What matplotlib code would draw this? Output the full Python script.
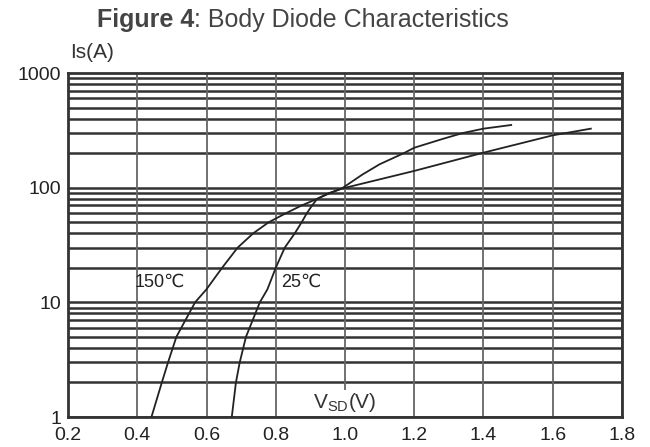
import matplotlib.pyplot as plt

# valores (Vsd em V, Is em A)
v_150 = [0.441, 0.471, 0.489, 0.513, 0.567, 0.60, 0.645, 0.69, 0.735, 0.78,
         0.83, 0.875, 0.92, 0.955, 0.99, 1.2, 1.4, 1.6, 1.71]
i_150 = [1, 2, 3, 5, 10, 13, 20, 30, 40, 50,
         60, 70, 80, 90, 98, 140, 202, 286, 327]

v_25 = [0.673, 0.685, 0.696, 0.714, 0.754, 0.776, 0.80, 0.826, 0.855, 0.875,
        0.89, 0.905, 0.92, 0.95, 0.99, 1.05, 1.1, 1.17, 1.2, 1.28,
        1.341, 1.4, 1.48]
i_25 = [1, 2, 3, 5, 10, 13, 20, 30, 40, 50,
        60, 70, 80, 88, 98, 130, 160, 200, 223, 265,
        300, 327, 352]

x_ticks = [0.2, 0.4, 0.6, 0.8, 1.0, 1.2, 1.4, 1.6, 1.8]
x_labels = ['0.2', '0.4', '0.6', '0.8', '1.0', '1.2', '1.4', '1.6', '1.8']
y_ticks = [1, 10, 100, 1000]
y_labels = ['1', '10', '100', '1000']

plt.rcParams['font.family'] = ['Liberation Sans', 'DejaVu Sans']

fig = plt.figure(figsize=(6.5, 4.47), dpi=100)
ax = fig.add_axes([68 / 650, 1 - 417 / 447, 554 / 650, 344 / 447])

# grade: linhas horizontais em cada 1..9 da decada, verticais a cada 0.2
for d in y_ticks[:-1]:
    for m in range(1, 10):
        ax.axhline(m * d, color='#333333', lw=1.8, zorder=1)
for xv in x_ticks:
    ax.axvline(xv, color='#666666', lw=1.3, zorder=1)

ax.plot(v_150, i_150, color='#222222', lw=1.3, zorder=3)
ax.plot(v_25, i_25, color='#222222', lw=1.3, zorder=3)

ax.set_yscale('log')
ax.set_xlim(0.2, 1.8)
ax.set_ylim(1, 1000)
ax.set_xticks(x_ticks)
ax.set_xticklabels(x_labels)
ax.set_yticks(y_ticks)
ax.set_yticklabels(y_labels)
ax.minorticks_off()
ax.tick_params(length=0, labelsize=14, colors='#222222')
ax.tick_params(axis='x', pad=7)
ax.tick_params(axis='y', pad=5)
for s in ax.spines.values():
    s.set_linewidth(2)
    s.set_color('#333333')

ax.text(0.393, 15, '150\u2103', fontsize=13, color='#222222', va='center', zorder=4)
ax.text(0.815, 15, '25\u2103', fontsize=13, color='#222222', va='center', zorder=4)

# rotulo do eixo x dentro do grafico
ax.text(1.0, 1.33, 'V$_{\\mathregular{SD}}$(V)', fontsize=15, color='#333333',
        ha='center', va='center', zorder=4,
        bbox=dict(facecolor='white', edgecolor='none', pad=1))

fig.text(70 / 650, 1 - 53 / 447, 'Is(A)', fontsize=15, color='#333333', va='center')

t1 = fig.text(97 / 650, 1 - 20 / 447, 'Figure 4', fontsize=18, fontweight='bold',
              color='#444444', va='center')
ax.annotate(': Body Diode Characteristics', xy=(1, 0.5), xycoords=t1,
            fontsize=18, color='#444444', va='center', ha='left',
            annotation_clip=False)

fig.savefig('out.png', dpi=100)
